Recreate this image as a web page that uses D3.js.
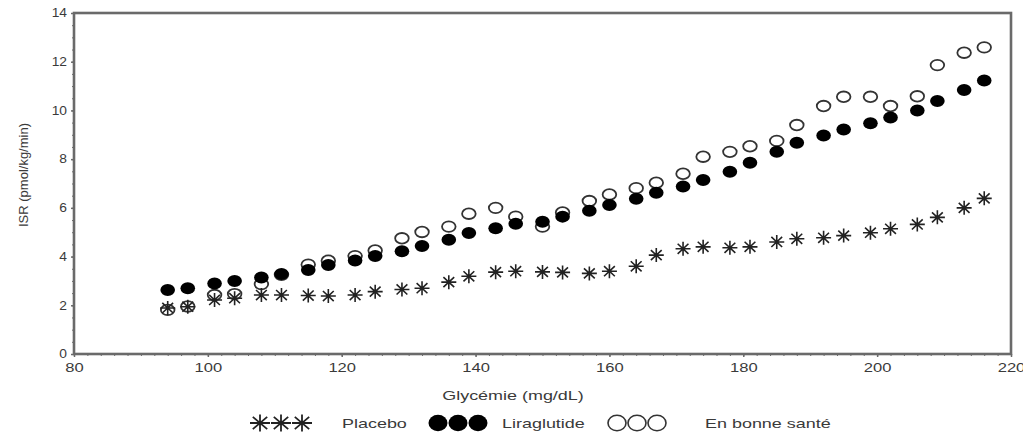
<!DOCTYPE html>
<html><head><meta charset="utf-8">
<script src="https://cdn.jsdelivr.net/npm/d3@7"></script>
<style>
html,body{margin:0;padding:0;background:#fff;}
text{font-family:"Liberation Sans",Arial,sans-serif;}
</style></head>
<body><svg id="c" width="1023" height="434"></svg>
<script>
// Glycémie (mg/dL)
const glycemia = [94,97,101,104,108,111,115,118,122,125,129,132,136,139,143,146,150,153,157,160,164,167,171,174,178,181,185,188,192,195,199,202,206,209,213,216];
// ISR (pmol/kg/min)
const placebo = [1.89,1.94,2.22,2.29,2.42,2.42,2.40,2.38,2.42,2.56,2.65,2.70,2.95,3.19,3.36,3.40,3.37,3.35,3.31,3.40,3.60,4.06,4.32,4.40,4.36,4.40,4.60,4.73,4.77,4.86,4.98,5.14,5.32,5.61,6.00,6.39];
const liraglutide = [2.63,2.70,2.89,3.00,3.14,3.28,3.45,3.65,3.84,4.02,4.22,4.43,4.69,4.97,5.16,5.35,5.43,5.64,5.88,6.12,6.37,6.62,6.88,7.14,7.48,7.85,8.30,8.67,8.97,9.22,9.47,9.71,10.00,10.39,10.84,11.23];
const healthy = [1.81,1.95,2.42,2.46,2.87,3.25,3.67,3.83,4.02,4.25,4.75,5.01,5.23,5.76,6.00,5.64,5.23,5.81,6.28,6.55,6.81,7.03,7.40,8.10,8.30,8.53,8.75,9.40,10.18,10.56,10.56,10.18,10.58,11.86,12.37,12.59];
const xTicks = [80,100,120,140,160,180,200,220];
const yTicks = [0,2,4,6,8,10,12,14];
const legendLabels = ["Placebo","Liraglutide","En bonne santé"];

const svg = d3.select("#c");
const L=74, R=1011, T=13, B=354;
const x = d3.scaleLinear().domain([80,220]).range([L,R]);
const y = d3.scaleLinear().domain([0,14]).range([B,T]);
const axisCol="#6a6a6a", txtCol="#3a3a3a";
const SX=1.38;

function stretch(sel, f){ sel.each(function(){ const w=this.getComputedTextLength(); this.setAttribute("textLength", w*(f||SX)); this.setAttribute("lengthAdjust","spacingAndGlyphs"); }); }

// frame
svg.append("rect").attr("x",L).attr("y",T).attr("width",R-L).attr("height",B-T)
  .attr("fill","none").attr("stroke",axisCol).attr("stroke-width",2.6);

// x axis
const xa = svg.append("g").attr("transform",`translate(0,${B})`)
  .call(d3.axisBottom(x).tickValues(xTicks).tickSize(3).tickPadding(6).tickFormat(d3.format("d")));
xa.select(".domain").remove();
xa.selectAll("line").attr("stroke",axisCol).attr("stroke-width",1.5);
xa.selectAll("text").attr("font-size",12).attr("fill",txtCol).call(stretch);
const xm = svg.append("g").attr("transform",`translate(0,${B})`)
  .call(d3.axisBottom(x).tickValues(d3.range(80,221,2)).tickSize(2).tickFormat(""));
xm.select(".domain").remove(); xm.selectAll("line").attr("stroke",axisCol).attr("stroke-width",1);

// y axis
const ya = svg.append("g").attr("transform",`translate(${L},0)`)
  .call(d3.axisLeft(y).tickValues(yTicks).tickSize(3).tickPadding(4).tickFormat(d3.format("d")));
ya.select(".domain").remove();
ya.selectAll("line").attr("stroke",axisCol).attr("stroke-width",1.5);
ya.selectAll("text").attr("font-size",12).attr("fill",txtCol).call(s=>stretch(s,1.15));
const ym = svg.append("g").attr("transform",`translate(${L},0)`)
  .call(d3.axisLeft(y).tickValues(d3.range(0,14.01,0.5)).tickSize(2).tickFormat(""));
ym.select(".domain").remove(); ym.selectAll("line").attr("stroke",axisCol).attr("stroke-width",1);

// titles
svg.append("text").attr("x",513).attr("y",400).attr("text-anchor","middle")
  .attr("font-size",13).attr("fill",txtCol).text("Glycémie (mg/dL)").call(stretch);
svg.append("text").attr("transform","translate(28,175) rotate(-90)").attr("text-anchor","middle")
  .attr("font-size",13).attr("fill",txtCol).text("ISR (pmol/kg/min)");

// markers
function starPath(rx, ry){
  const dx=rx*0.72, dy=ry*0.72;
  return `M${-rx},0L${rx},0M0,${-ry}L0,${ry}M${-dx},${-dy}L${dx},${dy}M${-dx},${dy}L${dx},${-dy}`;
}
const data = glycemia.map((g,i)=>({g, p:placebo[i], l:liraglutide[i], h:healthy[i]}));
const plot = svg.append("g");
plot.selectAll(".h").data(data).join("ellipse").attr("class","h")
  .attr("cx",d=>x(d.g)).attr("cy",d=>y(d.h)).attr("rx",6.8).attr("ry",5.3)
  .attr("fill","#fff").attr("stroke","#333").attr("stroke-width",1.8);
plot.selectAll(".l").data(data).join("ellipse").attr("class","l")
  .attr("cx",d=>x(d.g)).attr("cy",d=>y(d.l)).attr("rx",7.3).attr("ry",6)
  .attr("fill","#000");
plot.selectAll(".p").data(data).join("path").attr("class","p")
  .attr("transform",d=>`translate(${x(d.g)},${y(d.p)})`).attr("d",starPath(7.5,7))
  .attr("fill","none").attr("stroke","#222").attr("stroke-width",1.6);

// legend
const lg = svg.append("g").attr("transform","translate(0,423)");
[0,1,2].forEach(k=>{
  lg.append("path").attr("transform",`translate(${260+k*21},0)`).attr("d",starPath(10,8.5))
    .attr("fill","none").attr("stroke","#222").attr("stroke-width",1.8);
  lg.append("ellipse").attr("cx",438+k*20).attr("cy",0).attr("rx",9.5).attr("ry",8.3).attr("fill","#000");
  lg.append("ellipse").attr("cx",617+k*20).attr("cy",0).attr("rx",9).attr("ry",7.8)
    .attr("fill","#fff").attr("stroke","#333").attr("stroke-width",1.6);
});
const lx=[342,502,705];
legendLabels.forEach((t,i)=>{
  lg.append("text").attr("x",lx[i]).attr("y",5).attr("font-size",13).attr("fill",txtCol).text(t).call(stretch);
});
</script></body></html>
